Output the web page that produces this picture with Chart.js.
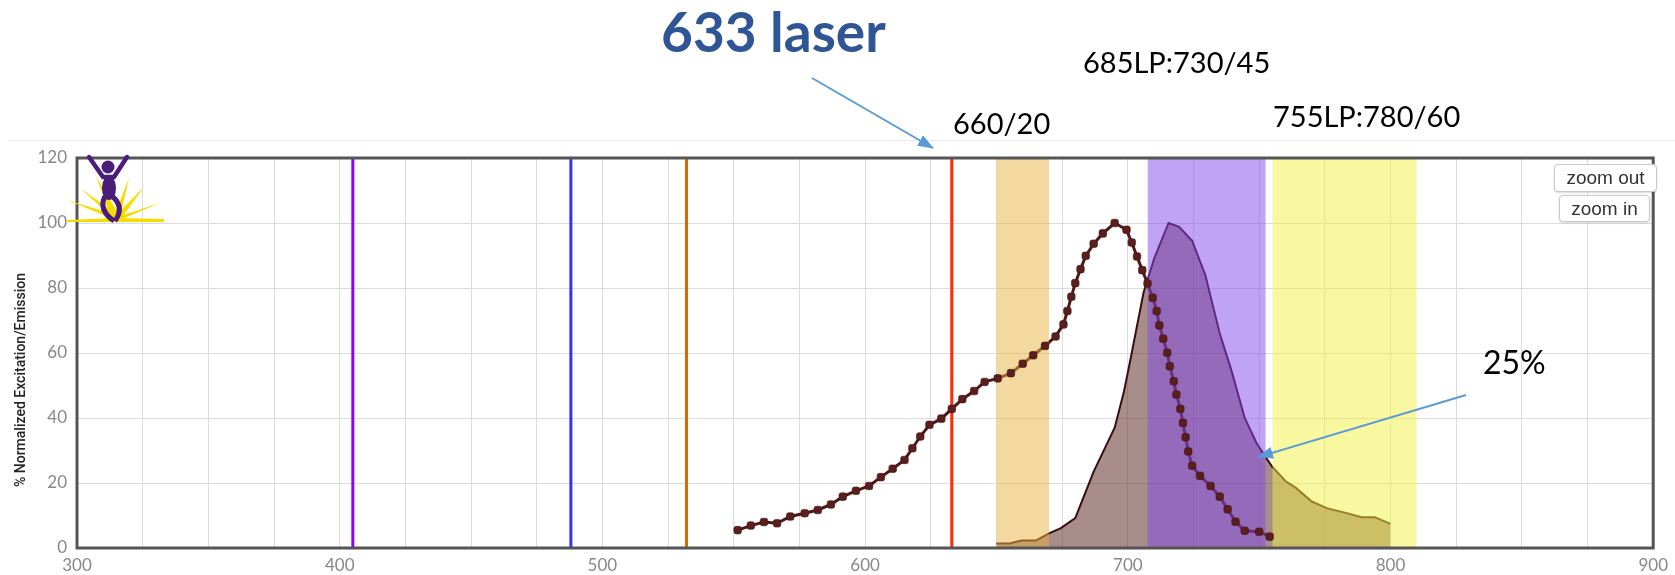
<!DOCTYPE html>
<html>
<head>
<meta charset="utf-8">
<title>Spectra viewer</title>
<script src="https://cdn.jsdelivr.net/npm/chart.js"></script>
<style>
  html, body { margin: 0; padding: 0; background: #fff; }
  #wrap { position: relative; width: 1675px; height: 575px; overflow: hidden; font-family: Lato, sans-serif; }
  #spectra { position: absolute; left: 0; top: 0; }
  .note { position: absolute; line-height: 1; white-space: nowrap; color: #000; font-size: 29px; }
  .laser { color: #2f5597; font-weight: bold; font-size: 55px; }
  .rule { position: absolute; left: 10px; right: 0; top: 140px; height: 1px; background: #ececec; }
  .ytitle { position: absolute; left: 20px; top: 380px; transform: translate(-50%, -50%) rotate(-90deg);
            font-family: Roboto, sans-serif; font-weight: 500; font-size: 14px; color: #222; white-space: nowrap; }
  .zbtn { position: absolute; box-sizing: border-box; background: #fff; border: 1px solid #c8c8c8; border-radius: 4px;
          box-shadow: 0 1px 2px rgba(0,0,0,0.15); font-family: "Liberation Sans", Arial, sans-serif; font-size: 19px; color: #333;
          text-align: center; line-height: 26px; }
  svg.over { position: absolute; left: 0; top: 0; pointer-events: none; }
</style>
</head>
<body>
<div id="wrap">
  <div class="rule"></div>
  <canvas id="spectra" width="1675" height="575"></canvas>

  <div class="note laser" style="left:661px; top:4px;">633 laser</div>
  <div class="note" style="left:953px; top:108px;">660/20</div>
  <div class="note" style="left:1083px; top:47px;">685LP:730/45</div>
  <div class="note" style="left:1273px; top:101px;">755LP:780/60</div>
  <div class="note" style="left:1483px; top:346px; font-size:32px;">25%</div>

  <div class="ytitle">% Normalized Excitation/Emission</div>

  <div class="zbtn" style="left:1554px; top:164px; width:103px; height:28px;">zoom out</div>
  <div class="zbtn" style="left:1559px; top:195px; width:91px; height:27px;">zoom in</div>

  <svg class="over" width="1675" height="575">
    <defs>
      <marker id="head" markerWidth="16" markerHeight="12" refX="15" refY="6" orient="auto" markerUnits="userSpaceOnUse">
        <path d="M0,0 L16,6 L0,12 z" fill="#5b9bd5"/>
      </marker>
    </defs>
    <!-- callout arrows -->
    <line x1="812" y1="78" x2="933" y2="148" stroke="#5b9bd5" stroke-width="2" marker-end="url(#head)"/>
    <line x1="1466" y1="395" x2="1258" y2="457" stroke="#5b9bd5" stroke-width="2" marker-end="url(#head)"/>

    <!-- logo: sunburst + figure -->
    <g fill="#f7dc00">
      <polygon points="66,220 115,218 115,222 66,222"/>
      <polygon points="115,218 164,219 164,222 115,222"/>
      <polygon points="113,219 67,200 116,215"/>
      <polygon points="113,218 80,188 118,215"/>
      <polygon points="111,217 96,176 119,215"/>
      <polygon points="114,216 129,178 120,218"/>
      <polygon points="114,217 144,187 121,219"/>
      <polygon points="114,218 160,203 120,220"/>
    </g>
    <g fill="#4a1d7a" stroke="#4a1d7a">
      <circle cx="108" cy="167" r="6.5" stroke="none"/>
      <polyline points="89,157 103,177 114,177 127,157" fill="none" stroke-width="4.5" stroke-linejoin="round" stroke-linecap="round"/>
      <ellipse cx="109" cy="188" rx="7" ry="12" stroke="none"/>
      <path d="M105,196 Q98,210 114,221" fill="none" stroke-width="5"/>
      <path d="M112,196 Q125,207 115,221" fill="none" stroke-width="5"/>
    </g>
  </svg>
</div>

<script>
// excitation spectrum (nm, % normalized)
const excitationNm = [551.5, 556.5, 561.5, 566.5, 571.5, 577, 582, 587, 591.5, 596.5, 601.5, 606, 610.5, 615, 618, 621, 624.5, 629, 633, 637, 641.5, 645.5,
  650.5, 655.5, 660, 664, 668.5, 672.5, 675.5, 677, 678.5, 680, 682, 684, 687, 690.5, 695, 699.5, 701.5, 703.5, 705.5, 707.5, 709.5, 711, 712, 713.5,
  715, 716, 717.5, 718.5, 720, 721, 722, 723, 724.5, 727.5, 731.5, 735, 738, 741, 744.5, 750, 754];
const excitationPct = [5.5, 6.9, 8.0, 7.6, 9.7, 10.7, 11.7, 13.4, 15.8, 17.6, 19.1, 21.8, 24.4, 27.1, 30.7, 34.3, 37.9, 39.8, 42.8, 45.8, 48.3, 51.1,
  52.2, 53.8, 56.7, 59.3, 62.2, 65.1, 68.8, 72.9, 77.3, 81.5, 85.8, 89.9, 93.6, 96.8, 100, 97.9, 94, 89.7, 85.5, 81.4, 77, 72.9, 68.5, 64.4,
  60.1, 55.9, 51.3, 47.2, 42.8, 38.5, 34.1, 29.7, 25.3, 22.2, 19.1, 15.8, 11.9, 8.1, 5.3, 5.0, 3.5];

// emission spectrum (nm, % normalized)
const emissionNm = [650, 655, 659.5, 665, 670, 674.5, 680, 687, 695, 698.5, 701, 706, 710, 715.5, 719.5, 724.5, 729.5, 735, 739.5, 744.5, 749, 752,
  755, 760, 764, 770, 776, 783, 789, 794, 800];
const emissionPct = [1.4, 1.4, 2.3, 2.3, 4.5, 6.1, 9.2, 23.5, 37, 48, 58, 78.6, 89, 100, 98.8, 94.5, 84, 66, 54.5, 40, 32.3, 28.5,
  25, 20.6, 18.5, 14.3, 12.2, 10.8, 9.5, 9.5, 7.4];

// laser lines
const laserNm = [405, 488, 532, 633];
const laserColors = ['#9000ff', '#3030ff', '#d46a00', '#ff2a00'];

// detector filter windows
const filterNames = ['660/20', '685LP:730/45', '755LP:780/60'];
const filterFrom = [650, 707.5, 755];
const filterTo = [670, 752.5, 810];
const filterColors = ['rgba(232,180,64,0.5)', 'rgba(130,72,236,0.5)', 'rgba(242,242,66,0.5)'];

// axis ticks
const xMin = 300, xMax = 900, xStep = 25, xLabelStep = 100;
const yMin = 0, yMax = 120, yStep = 20;

const pts = (xs, ys) => xs.map((x, i) => ({ x: x, y: ys[i] }));

const datasets = [];

datasets.push({
  label: 'Emission',
  data: pts(emissionNm, emissionPct),
  borderColor: '#3a0d12',
  borderWidth: 2,
  backgroundColor: 'rgba(90,40,35,0.53)',
  fill: 'origin',
  pointRadius: 0,
  order: 10
});

laserNm.forEach((nm, i) => {
  datasets.push({
    label: nm + ' nm',
    data: [{ x: nm, y: yMin }, { x: nm, y: yMax }],
    borderColor: laserColors[i],
    borderWidth: 3,
    pointRadius: 0,
    fill: false,
    order: 8
  });
});

datasets.push({
  label: 'Excitation',
  data: pts(excitationNm, excitationPct),
  borderColor: '#4e1818',
  borderWidth: 3,
  pointRadius: 0,
  fill: false,
  order: 6
});

// filter windows drawn over the curves
filterNames.forEach((name, i) => {
  datasets.push({
    label: name,
    data: [{ x: filterFrom[i], y: yMax }, { x: filterTo[i], y: yMax }],
    borderWidth: 0,
    borderColor: 'rgba(0,0,0,0)',
    backgroundColor: filterColors[i],
    fill: 'origin',
    pointRadius: 0,
    order: 4
  });
});

// excitation markers stay on top
datasets.push({
  label: 'Excitation points',
  data: pts(excitationNm, excitationPct),
  showLine: false,
  pointStyle: 'rectRounded',
  pointRadius: 4.4,
  pointBackgroundColor: '#5a1e1e',
  pointBorderColor: 'rgba(70,20,20,0.6)',
  pointBorderWidth: 1,
  order: 1
});

const frame = {
  id: 'frame',
  afterDraw(chart) {
    const a = chart.chartArea, c = chart.ctx;
    c.save();
    c.strokeStyle = '#555';
    c.lineWidth = 3;
    c.strokeRect(a.left, a.top, a.right - a.left, a.bottom - a.top);
    c.restore();
  }
};

const tickFont = { family: 'Lato', size: 17 };

new Chart(document.getElementById('spectra').getContext('2d'), {
  type: 'line',
  data: { datasets: datasets },
  options: {
    responsive: false,
    animation: false,
    events: [],
    elements: { line: { tension: 0 } },
    layout: { padding: { top: 158, right: 13, left: 0, bottom: 0 }, autoPadding: false },
    plugins: { legend: { display: false }, tooltip: { enabled: false } },
    scales: {
      x: {
        type: 'linear',
        min: xMin,
        max: xMax,
        ticks: {
          stepSize: xStep,
          autoSkip: false,
          maxRotation: 0,
          padding: 7,
          color: '#888',
          font: tickFont,
          callback: v => (v % xLabelStep === 0 ? v : '')
        },
        grid: { color: '#dcdcdc', drawTicks: false },
        border: { display: false },
        afterFit: s => { s.height = 27; }
      },
      y: {
        min: yMin,
        max: yMax,
        ticks: { stepSize: yStep, padding: 10, color: '#888', font: tickFont },
        grid: { color: '#dcdcdc', drawTicks: false },
        border: { display: false },
        afterFit: s => { s.width = 77; }
      }
    }
  },
  plugins: [frame]
});
</script>
</body>
</html>
